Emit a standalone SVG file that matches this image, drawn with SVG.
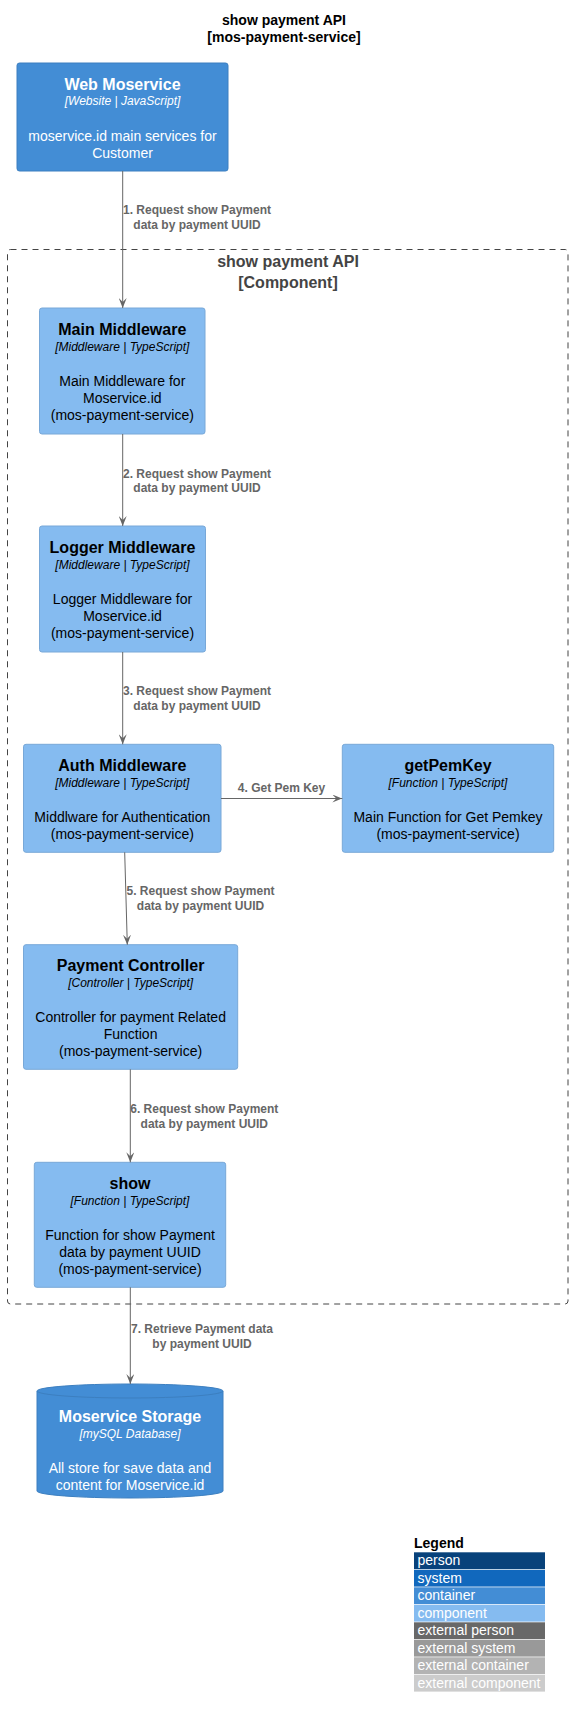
<svg xmlns="http://www.w3.org/2000/svg" width="575" height="1718" viewBox="0 0 575 1718">
<style>
text{font-family:"Liberation Sans",Arial,sans-serif}
.ttl{font-size:14px;font-weight:bold;fill:#000000;text-anchor:middle}
.bl{font-size:16px;font-weight:bold;fill:#444444;text-anchor:middle}
.comp rect{fill:#85BBF0;stroke:#78A8D8;stroke-width:1}
.cont rect,.cont path.body{fill:#438DD5;stroke:#3C7FC0;stroke-width:1}
.nm{font-size:16px;font-weight:bold;text-anchor:middle}
.tc{font-size:12px;font-style:italic;text-anchor:middle}
.ds{font-size:14px;text-anchor:middle}
.comp text{fill:#000000}
.cont text{fill:#FFFFFF}
.rel line{stroke:#666666;stroke-width:1;marker-end:url(#arr)}
.rl{font-size:12px;font-weight:bold;fill:#666666;text-anchor:middle}
.lg{font-size:14px;fill:#FFFFFF}
</style>
<defs>
<marker id="arr" markerUnits="userSpaceOnUse" markerWidth="10" markerHeight="8" viewBox="0 0 10 8" refX="10" refY="4" orient="auto">
<path d="M0,0 L10,4 L0,8 L4,4 Z" fill="#666666"/>
</marker>
</defs>
<rect width="575" height="1718" fill="#FFFFFF"/>
<g id="title">
<text class="ttl" x="284" y="25">show payment API</text>
<text class="ttl" x="284" y="42">[mos-payment-service]</text>
</g>
<g id="boundary">
<rect x="7.5" y="249.5" width="560.5" height="1054.5" rx="3" fill="none" stroke="#444444" stroke-width="1" stroke-dasharray="6,5"/>
<text class="bl" x="288" y="267">show payment API</text>
<text class="bl" x="288" y="287.5">[Component]</text>
</g>
<g id="web-moservice" class="cont">
<rect x="17" y="63" width="211" height="108" rx="2.5"/>
<text class="nm" x="122.5" y="89.5">Web Moservice</text>
<text class="tc" x="122.5" y="105">[Website | JavaScript]</text>
<text class="ds" x="122.5" y="140.5">moservice.id main services for</text>
<text class="ds" x="122.5" y="157.5">Customer</text>
</g>
<g id="main-middleware" class="comp">
<rect x="39.5" y="308" width="165.5" height="126" rx="2.5"/>
<text class="nm" x="122.3" y="334.5">Main Middleware</text>
<text class="tc" x="122.3" y="350.5">[Middleware | TypeScript]</text>
<text class="ds" x="122.3" y="385.5">Main Middleware for</text>
<text class="ds" x="122.3" y="402.5">Moservice.id</text>
<text class="ds" x="122.3" y="419.5">(mos-payment-service)</text>
</g>
<g id="logger-middleware" class="comp">
<rect x="39.5" y="526" width="166" height="126" rx="2.5"/>
<text class="nm" x="122.5" y="552.5">Logger Middleware</text>
<text class="tc" x="122.5" y="568.5">[Middleware | TypeScript]</text>
<text class="ds" x="122.5" y="603.5">Logger Middleware for</text>
<text class="ds" x="122.5" y="620.5">Moservice.id</text>
<text class="ds" x="122.5" y="637.5">(mos-payment-service)</text>
</g>
<g id="auth-middleware" class="comp">
<rect x="23.5" y="744.3" width="197.5" height="108" rx="2.5"/>
<text class="nm" x="122.3" y="770.8">Auth Middleware</text>
<text class="tc" x="122.3" y="786.8">[Middleware | TypeScript]</text>
<text class="ds" x="122.3" y="821.8">Middlware for Authentication</text>
<text class="ds" x="122.3" y="838.8">(mos-payment-service)</text>
</g>
<g id="getpemkey" class="comp">
<rect x="342.3" y="744.3" width="211.4" height="108" rx="2.5"/>
<text class="nm" x="448" y="770.8">getPemKey</text>
<text class="tc" x="448" y="786.8">[Function | TypeScript]</text>
<text class="ds" x="448" y="821.8">Main Function for Get Pemkey</text>
<text class="ds" x="448" y="838.8">(mos-payment-service)</text>
</g>
<g id="payment-controller" class="comp">
<rect x="23.5" y="944.7" width="214.2" height="124.6" rx="2.5"/>
<text class="nm" x="130.6" y="971">Payment Controller</text>
<text class="tc" x="130.6" y="987">[Controller | TypeScript]</text>
<text class="ds" x="130.6" y="1022">Controller for payment Related</text>
<text class="ds" x="130.6" y="1039">Function</text>
<text class="ds" x="130.6" y="1056">(mos-payment-service)</text>
</g>
<g id="show" class="comp">
<rect x="34.3" y="1162.3" width="191.4" height="125" rx="2.5"/>
<text class="nm" x="130" y="1188.6">show</text>
<text class="tc" x="130" y="1204.6">[Function | TypeScript]</text>
<text class="ds" x="130" y="1239.6">Function for show Payment</text>
<text class="ds" x="130" y="1256.6">data by payment UUID</text>
<text class="ds" x="130" y="1273.6">(mos-payment-service)</text>
</g>
<g id="moservice-storage" class="cont">
<path class="body" d="M37,1391 A93,7 0 0 1 223,1391 L223,1491 A93,7 0 0 1 37,1491 Z"/>
<path d="M37,1391 A93,7 0 0 0 223,1391" fill="none" stroke="#3C7FC0" stroke-width="1"/>
<text class="nm" x="130" y="1422.3">Moservice Storage</text>
<text class="tc" x="130" y="1438.3">[mySQL Database]</text>
<text class="ds" x="130" y="1473.3">All store for save data and</text>
<text class="ds" x="130" y="1490">content for Moservice.id</text>
</g>
<g id="connectors" class="rel">
<line x1="122.7" y1="171" x2="122.7" y2="308"/>
<text class="rl" x="197" y="213.5">1. Request show Payment</text>
<text class="rl" x="197" y="228.5">data by payment UUID</text>
<line x1="122.7" y1="434" x2="122.7" y2="526"/>
<text class="rl" x="197" y="477.5">2. Request show Payment</text>
<text class="rl" x="197" y="492">data by payment UUID</text>
<line x1="122.7" y1="652" x2="122.7" y2="744.3"/>
<text class="rl" x="197" y="695">3. Request show Payment</text>
<text class="rl" x="197" y="710">data by payment UUID</text>
<line x1="221" y1="798.5" x2="342.3" y2="798.5"/>
<text class="rl" x="281.5" y="791.7">4. Get Pem Key</text>
<line x1="124.7" y1="852.3" x2="127.3" y2="944.7"/>
<text class="rl" x="200.5" y="895">5. Request show Payment</text>
<text class="rl" x="200.5" y="910">data by payment UUID</text>
<line x1="130.3" y1="1069.3" x2="130.3" y2="1162.3"/>
<text class="rl" x="204.3" y="1113.3">6. Request show Payment</text>
<text class="rl" x="204.3" y="1128.3">data by payment UUID</text>
<line x1="130.3" y1="1287.3" x2="130.3" y2="1384"/>
<text class="rl" x="202" y="1333.3">7. Retrieve Payment data</text>
<text class="rl" x="202" y="1348.3">by payment UUID</text>
</g>
<g id="legend">
<text x="414" y="1548" font-size="14" font-weight="bold" fill="#000000">Legend</text>
<rect x="414" y="1552.3" width="131" height="16.8" fill="#08427B"/>
<text class="lg" x="417.5" y="1565">person</text>
<rect x="414" y="1569.8" width="131" height="16.8" fill="#1168BD"/>
<text class="lg" x="417.5" y="1582.5">system</text>
<rect x="414" y="1587.3" width="131" height="16.8" fill="#438DD5"/>
<text class="lg" x="417.5" y="1600">container</text>
<rect x="414" y="1604.8" width="131" height="16.8" fill="#85BBF0"/>
<text class="lg" x="417.5" y="1617.5">component</text>
<rect x="414" y="1622.3" width="131" height="16.8" fill="#686868"/>
<text class="lg" x="417.5" y="1635">external person</text>
<rect x="414" y="1639.8" width="131" height="16.8" fill="#999999"/>
<text class="lg" x="417.5" y="1652.5">external system</text>
<rect x="414" y="1657.3" width="131" height="16.8" fill="#B3B3B3"/>
<text class="lg" x="417.5" y="1670">external container</text>
<rect x="414" y="1674.8" width="131" height="16.8" fill="#CCCCCC"/>
<text class="lg" x="417.5" y="1687.5">external component</text>
</g>
</svg>
